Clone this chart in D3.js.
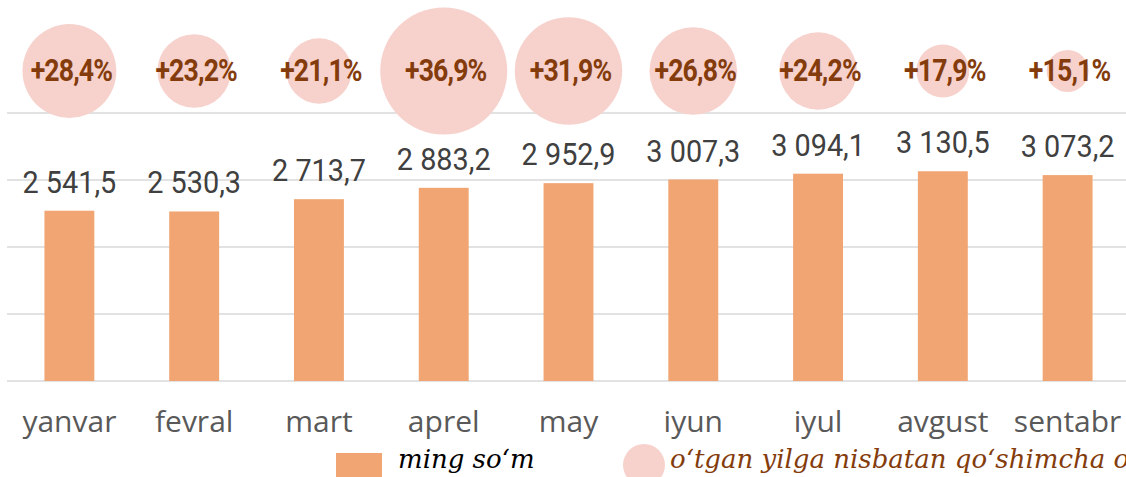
<!DOCTYPE html>
<html>
<head>
<meta charset="utf-8">
<script src="https://cdn.jsdelivr.net/npm/d3@7"></script>
<style>
  html, body { margin: 0; padding: 0; background: #ffffff; }
  svg { display: block; overflow: hidden; }
</style>
</head>
<body>
<svg id="chart" width="1126" height="477"></svg>
<script>
// Monthly values (thousand so'm) and year-over-year growth (%)
const months = ["yanvar", "fevral", "mart", "aprel", "may", "iyun", "iyul", "avgust", "sentabr"];
const amounts = [2541.5, 2530.3, 2713.7, 2883.2, 2952.9, 3007.3, 3094.1, 3130.5, 3073.2];
const growth = [28.4, 23.2, 21.1, 36.9, 31.9, 26.8, 24.2, 17.9, 15.1];
const gridTicks = [0, 1000, 2000, 3000, 4000];
const legendLabels = ["ming so‘m", "o‘tgan yilga nisbatan qo‘shimcha o‘sish"];

const colors = {
  bar: "#F1A573",
  bubble: "#F7D2CD",
  bubbleText: "#843C0C",
  valueText: "#404040",
  axisText: "#595959",
  grid: "#D9D9D9"
};

const locale = d3.formatLocale({ decimal: ",", thousands: " ", grouping: [3], currency: ["", ""] });
const fmtValue = locale.format(",.1f");
const fmtGrowth = v => locale.format("+.1f")(v) + "%";

const svg = d3.select("#chart");
const W = 1126, H = 477;

const x = d3.scaleBand().domain(months).range([7, 1130]).paddingInner(0.6).paddingOuter(0.3);
const y = d3.scaleLinear().domain([0, 4000]).range([381, 113]);
const r = d3.scaleLinear().domain([d3.min(growth), d3.max(growth)]).range([21, 63.5]);
const bubbleY = 71;
const cx = m => x(m) + x.bandwidth() / 2;

// horizontal gridlines
svg.append("g").selectAll("line").data(gridTicks).join("line")
  .attr("x1", 7).attr("x2", W)
  .attr("y1", d => y(d)).attr("y2", d => y(d))
  .attr("stroke", colors.grid).attr("stroke-width", 1.5);

// bars
svg.append("g").selectAll("rect").data(amounts).join("rect")
  .attr("x", (d, i) => x(months[i]))
  .attr("width", x.bandwidth())
  .attr("y", d => y(d))
  .attr("height", d => y(0) - y(d))
  .attr("fill", colors.bar);

// value labels above bars
svg.append("g").selectAll("text").data(amounts).join("text")
  .attr("transform", (d, i) => `translate(${cx(months[i])},${y(d) - 18}) scale(0.93,1)`)
  .attr("text-anchor", "middle")
  .attr("font-family", "Roboto, sans-serif")
  .attr("font-size", 31)
  .attr("fill", colors.valueText)
  .text(d => fmtValue(d));

// growth bubbles
svg.append("g").selectAll("circle").data(growth).join("circle")
  .attr("cx", (d, i) => cx(months[i]))
  .attr("cy", bubbleY)
  .attr("r", d => r(d))
  .attr("fill", colors.bubble);

svg.append("g").selectAll("text").data(growth).join("text")
  .attr("transform", (d, i) => `translate(${cx(months[i]) + 2},${bubbleY + 10}) scale(0.86,1)`)
  .attr("text-anchor", "middle")
  .attr("font-family", "Roboto, sans-serif")
  .attr("font-weight", 700)
  .attr("font-size", 31)
  .attr("letter-spacing", -1)
  .attr("fill", colors.bubbleText)
  .text(d => fmtGrowth(d));

// category axis
const xAxis = svg.append("g")
  .attr("transform", `translate(0,${y(0)})`)
  .call(d3.axisBottom(x).tickSize(0));
xAxis.select(".domain").remove();
xAxis.selectAll("text")
  .attr("y", 51).attr("dy", 0)
  .attr("font-family", "'Open Sans', sans-serif")
  .attr("font-size", 30)
  .attr("fill", colors.axisText);

// legend
const legend = svg.append("g");
legend.append("rect")
  .attr("x", 336).attr("y", 453).attr("width", 46).attr("height", 26)
  .attr("fill", colors.bar);
legend.append("text")
  .attr("x", 398).attr("y", 468)
  .attr("font-family", "'DejaVu Serif', serif")
  .attr("font-style", "italic")
  .attr("font-size", 26)
  .attr("fill", "#000000")
  .text(legendLabels[0]);
legend.append("circle")
  .attr("cx", 644).attr("cy", 465).attr("r", 21)
  .attr("fill", colors.bubble);
legend.append("text")
  .attr("x", 670).attr("y", 468)
  .attr("font-family", "'DejaVu Serif', serif")
  .attr("font-style", "italic")
  .attr("font-size", 26)
  .attr("fill", colors.bubbleText)
  .text(legendLabels[1]);
</script>
</body>
</html>
